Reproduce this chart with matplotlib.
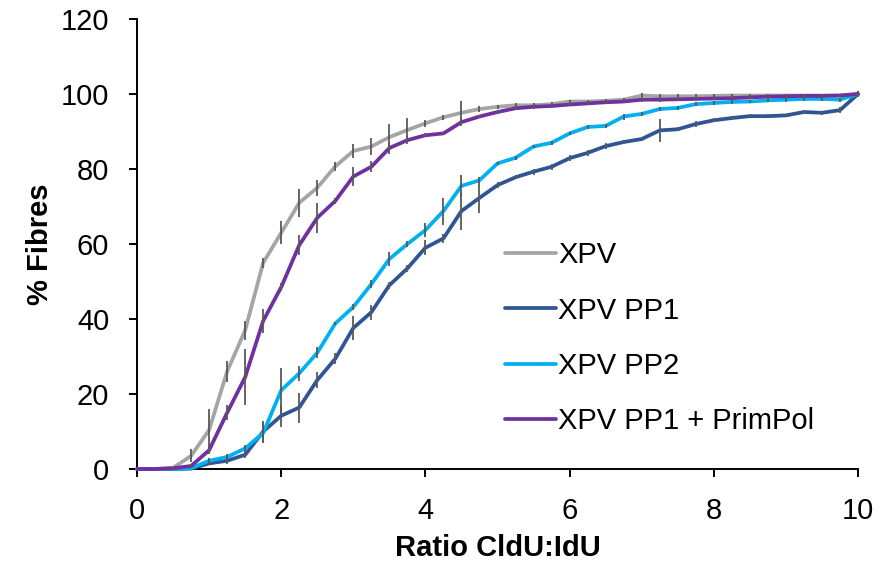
import matplotlib
matplotlib.use("Agg")
import matplotlib.pyplot as plt

plt.rcParams["font.family"] = ["Liberation Sans", "DejaVu Sans"]

ratio = [0, 0.25, 0.5, 0.75, 1, 1.25, 1.5, 1.75, 2, 2.25, 2.5, 2.75, 3, 3.25,
         3.5, 3.75, 4, 4.25, 4.5, 4.75, 5, 5.25, 5.5, 5.75, 6, 6.25, 6.5, 6.75,
         7, 7.25, 7.5, 7.75, 8, 8.25, 8.5, 8.75, 9, 9.25, 9.5, 9.75, 10]

xpv = [0, 0, 0.3, 3.5, 10.4, 26, 37, 55, 63, 71, 75, 80.7, 84.8, 86, 88.5,
       90.4, 92.2, 93.8, 95, 96, 96.6, 97, 97, 97.3, 98, 98, 98.2, 98.5, 99.6,
       99.4, 99.4, 99.4, 99.5, 99.6, 99.6, 99.6, 99.6, 99.6, 99.6, 99.6, 100]
xpv_err = [0, 0, 0.3, 1.7, 5.5, 2.9, 2.5, 1.3, 3.1, 3.8, 2.2, 1.3, 1.8, 2.2,
           3.6, 3.3, 0.9, 0.6, 3.1, 0.9, 0.6, 0.5, 0.5, 0.5, 0.5, 0.5, 0.5,
           0.5, 0.8, 0.5, 0.5, 0.5, 0.5, 0.5, 0.5, 0.5, 0.5, 0.5, 0.5, 0.5, 0.8]

pp1 = [0, 0, 0, 0.1, 1.5, 2.2, 3.8, 10, 14.2, 16.4, 23.7, 29.4, 37.6, 41.8,
       49, 53.5, 59, 61.5, 68.8, 72.3, 75.7, 77.8, 79.3, 80.6, 82.9, 84.3,
       86.1, 87.2, 88, 90.3, 90.6, 92, 93, 93.6, 94.1, 94.1, 94.3, 95.2, 95,
       95.7, 100]
pp1_err = [0, 0, 0, 0, 0.5, 0.8, 0.8, 2.7, 3, 4, 2.2, 1.5, 3.3, 2, 1, 1, 2,
           1.3, 5, 4, 0.8, 0.5, 0.8, 0.8, 0.8, 0.8, 0.8, 0.5, 0.5, 3, 0.5,
           0.8, 0.5, 0.5, 0.5, 0.5, 0.5, 0.5, 0.5, 0.8, 0.8]

pp2 = [0, 0, 0, 0.2, 2.2, 3.2, 5.5, 9.6, 21, 25.5, 31, 38.8, 43.2, 49.3, 56,
       60, 63.7, 68.8, 75.5, 77, 81.5, 83, 86, 87, 89.5, 91.2, 91.5, 94, 94.7,
       96, 96.3, 97.3, 97.6, 97.9, 98, 98.3, 98.5, 98.7, 98.7, 98.5, 100]
pp2_err = [0, 0, 0, 0, 0.6, 0.8, 1, 2.7, 6, 2, 1.5, 0.5, 0.8, 1, 1.8, 0.8,
           1.8, 3.6, 3, 0.8, 0.5, 0.5, 0.5, 0.5, 0.5, 0.5, 0.5, 0.8, 0.5, 0.5,
           0.5, 0.5, 0.5, 0.5, 0.5, 0.5, 0.5, 0.5, 0.5, 0.5, 0.5]

pp1_primpol = [0, 0, 0.2, 0.8, 5, 15, 24.5, 39.5, 48.5, 59.7, 67, 71.5, 78,
               80.6, 85.6, 87.7, 89, 89.5, 92.5, 94, 95.2, 96.2, 96.6, 96.8,
               97.2, 97.5, 97.8, 98, 98.5, 98.5, 98.6, 98.7, 98.8, 98.9, 99.1,
               99.3, 99.4, 99.5, 99.5, 99.6, 100]
pp1_primpol_err = [0, 0, 0, 0.5, 1, 2, 7.5, 3.3, 1, 2.7, 4, 0.8, 2.5, 1.5,
                   1.5, 1, 0.5, 0.5, 1, 0.5, 0.5, 0.5, 0.5, 0.5, 0.5, 0.5,
                   0.5, 0.5, 0.5, 0.5, 0.5, 0.5, 0.5, 0.5, 0.5, 0.5, 0.5, 0.5,
                   0.5, 0.5, 0.5]

series = [
    ("XPV", xpv, xpv_err, "#A5A5A5"),
    ("XPV PP1", pp1, pp1_err, "#2F5597"),
    ("XPV PP2", pp2, pp2_err, "#00B0F0"),
    ("XPV PP1 + PrimPol", pp1_primpol, pp1_primpol_err, "#7030A0"),
]

fig = plt.figure(figsize=(8.92, 5.68), dpi=100)
ax = fig.add_axes([0.1536, 0.1743, 0.8083, 0.7922])

for label, values, err, color in series:
    ax.plot(ratio, values, color=color, lw=2.7, label=label,
            solid_capstyle="round", clip_on=False, zorder=3)

for label, values, err, color in series:
    ax.errorbar(ratio, values, yerr=err, fmt="none", ecolor="#595959",
                elinewidth=1.3, capsize=0, zorder=4, clip_on=False)

ax.set_xlim(0, 10)
ax.set_ylim(0, 120)
ax.set_xticks([0, 2, 4, 6, 8, 10])
ax.set_yticks([0, 20, 40, 60, 80, 100, 120])
ax.spines["top"].set_visible(False)
ax.spines["right"].set_visible(False)
ax.spines["left"].set_linewidth(1.4)
ax.spines["bottom"].set_linewidth(1.4)
ax.tick_params(direction="out", length=6, width=1.4, labelsize=21, pad=14)

ax.set_xlabel("Ratio CldU:IdU", fontsize=21, fontweight="bold", labelpad=7)
ax.set_ylabel("% Fibres", fontsize=21, fontweight="bold", labelpad=5)

ax.legend(loc="upper left", bbox_to_anchor=(0.474, 0.564), frameon=False,
          fontsize=21, handlelength=1.75, handletextpad=0.08, labelspacing=0.93)

fig.savefig("out.png", dpi=100)
